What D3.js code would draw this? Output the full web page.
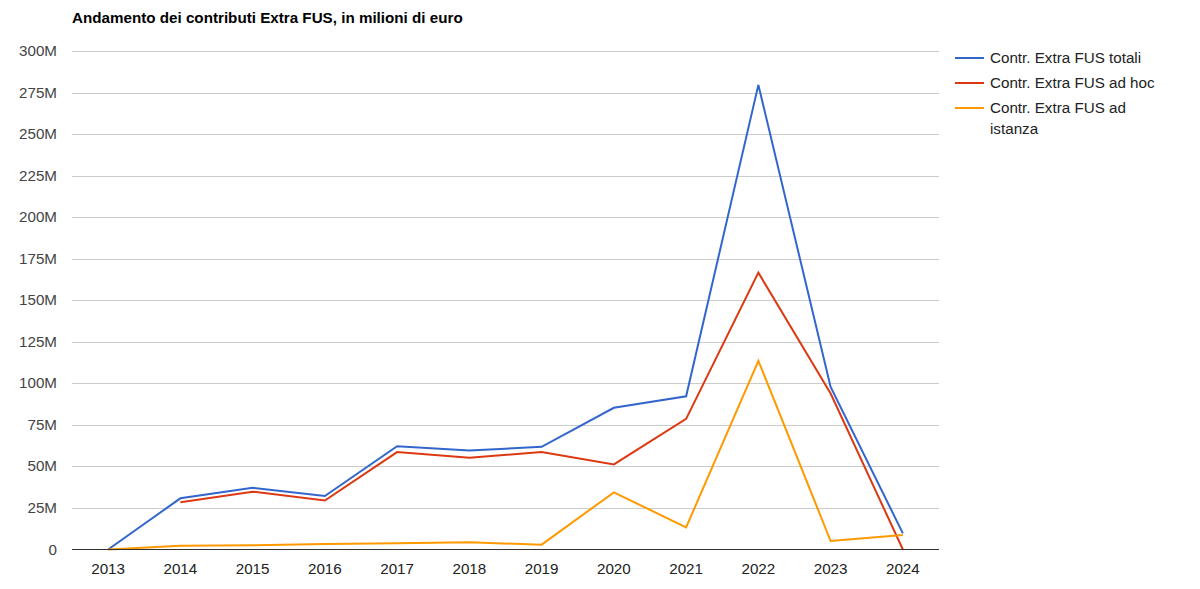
<!DOCTYPE html>
<html><head><meta charset="utf-8">
<script src="https://cdn.jsdelivr.net/npm/d3@7"></script>
<style>body{margin:0;background:#fff;font-family:Arial,"Liberation Sans",sans-serif}</style>
</head><body><svg id="c" width="1200" height="589"></svg>
<script>
const years = ["2013","2014","2015","2016","2017","2018","2019","2020","2021","2022","2023","2024"];
const totali = [0,30.8,37.1,32.2,62.2,59.6,61.8,85.3,92.2,279.6,97.8,9.7];
const adHoc = [null,28.4,34.8,29.5,58.6,55.2,58.6,51.2,78.6,166.6,93.9,0];
const adIstanza = [0,2.3,2.5,3.3,3.7,4.3,2.9,34.4,13.3,113.6,5.1,8.7];
const yTicks = [0,25,50,75,100,125,150,175,200,225,250,275,300];
const seriesNames = ["Contr. Extra FUS totali","Contr. Extra FUS ad hoc","Contr. Extra FUS ad istanza"];
const colors = ["#3366cc","#dc3912","#ff9900"];

const svg = d3.select("#c");
const L=72,R=939,T=51,B=549.5;
const FS=15.2;
const x = d3.scalePoint().domain(years).range([L,R]).padding(0.5);
const y = d3.scaleLinear().domain([0,300]).range([B,T]);

svg.append("text").attr("x",72).attr("y",23).attr("font-size",15.2).attr("font-weight","bold").attr("fill","#000").text("Andamento dei contributi Extra FUS, in milioni di euro");

const g = svg.append("g");
g.selectAll("line.grid").data(yTicks.filter(d=>d>0)).join("line").attr("class","grid")
 .attr("x1",L).attr("x2",R).attr("y1",d=>Math.round(y(d))+0.5).attr("y2",d=>Math.round(y(d))+0.5).attr("stroke","#cccccc").attr("stroke-width",1);
g.selectAll("text.yl").data(yTicks).join("text").attr("class","yl")
 .attr("x",57).attr("y",d=>y(d)+5).attr("text-anchor","end").attr("font-size",FS).attr("fill","#444").text(d=>d===0?"0":d+"M");
g.selectAll("text.xl").data(years).join("text").attr("class","xl")
 .attr("x",d=>x(d)).attr("y",574).attr("text-anchor","middle").attr("font-size",FS).attr("fill","#222").text(d=>d);

const data=[totali,adHoc,adIstanza];
const line=d3.line().defined(d=>d.v!==null).x(d=>x(d.y)).y(d=>y(d.v));
data.forEach((s,i)=>{
  svg.append("path").datum(years.map((yy,j)=>({y:yy,v:s[j]}))).attr("d",line)
   .attr("fill","none").attr("stroke",colors[i]).attr("stroke-width",2).attr("stroke-linejoin","miter");
});
svg.append("line").attr("x1",L).attr("x2",R).attr("y1",549.5).attr("y2",549.5).attr("stroke","#333").attr("stroke-width",1);

const lg = svg.append("g");
const rows=[[seriesNames[0]],[seriesNames[1]],["Contr. Extra FUS ad","istanza"]];
const rowY=[58,83,108];
rows.forEach((r,i)=>{
  lg.append("line").attr("x1",955).attr("x2",984).attr("y1",rowY[i]).attr("y2",rowY[i]).attr("stroke",colors[i]).attr("stroke-width",2);
  r.forEach((t,k)=>lg.append("text").attr("x",990).attr("y",rowY[i]+5+k*21).attr("font-size",FS).attr("fill","#222").text(t));
});
</script></body></html>
